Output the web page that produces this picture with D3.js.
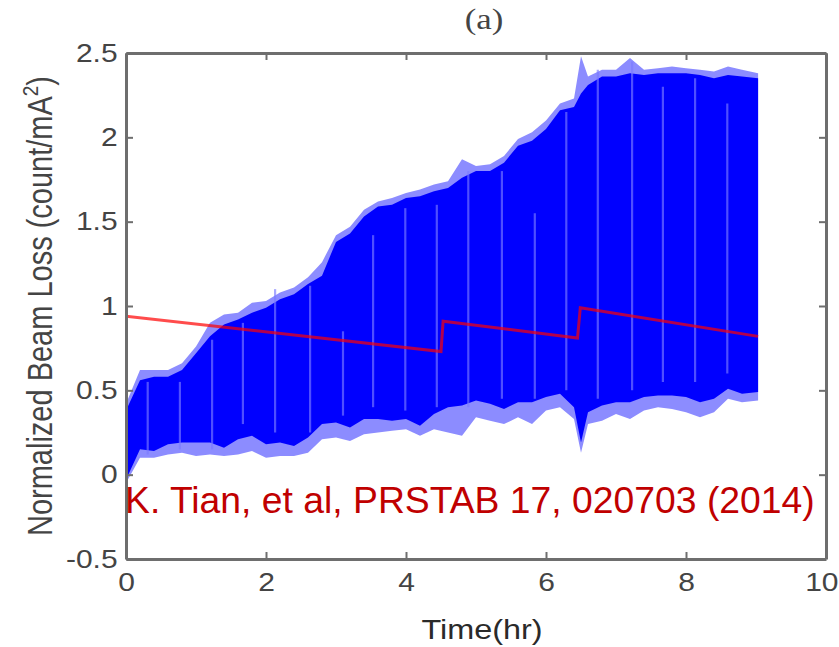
<!DOCTYPE html>
<html><head><meta charset="utf-8">
<script src="https://cdn.jsdelivr.net/npm/d3@7"></script>
<style>body{margin:0;background:#fff} svg{display:block}</style>
</head><body><svg id="c" width="839" height="647"></svg>
<script>
// ---- data ----
const timeHr = [0,0.2,0.4,0.6,0.8,1.0,1.2,1.4,1.6,1.8,2.0,2.2,2.4,2.6,2.8,3.0,3.2,3.4,3.6,3.8,4.0,4.2,4.4,4.6,4.8,5.0,5.2,5.4,5.6,5.8,6.0,6.2,6.4,6.5,6.6,6.8,7.0,7.2,7.4,7.6,7.8,8.0,8.2,8.4,8.6,8.8,9.03];
const upperSolid = [0.38,0.56,0.58,0.58,0.62,0.72,0.82,0.89,0.92,0.96,0.99,1.04,1.07,1.13,1.18,1.38,1.43,1.53,1.59,1.60,1.64,1.65,1.68,1.70,1.76,1.80,1.80,1.85,1.95,1.98,2.05,2.16,2.18,2.26,2.31,2.36,2.36,2.38,2.37,2.38,2.38,2.38,2.37,2.35,2.37,2.36,2.35];
const upperLight = [0.42,0.62,0.62,0.62,0.66,0.76,0.90,0.95,0.96,1.02,1.03,1.08,1.11,1.17,1.26,1.42,1.47,1.57,1.62,1.64,1.67,1.69,1.72,1.74,1.87,1.83,1.84,1.89,1.99,2.03,2.10,2.20,2.23,2.48,2.36,2.40,2.40,2.47,2.40,2.41,2.42,2.41,2.40,2.39,2.42,2.40,2.38];
const lowerSolid = [-0.03,0.15,0.14,0.18,0.19,0.19,0.19,0.16,0.21,0.23,0.18,0.19,0.17,0.22,0.30,0.31,0.28,0.33,0.33,0.32,0.33,0.29,0.36,0.40,0.41,0.44,0.42,0.39,0.43,0.43,0.46,0.48,0.40,0.19,0.37,0.41,0.43,0.43,0.46,0.47,0.47,0.46,0.43,0.45,0.51,0.48,0.49];
const lowerLight = [-0.05,0.10,0.10,0.12,0.13,0.11,0.12,0.11,0.12,0.14,0.10,0.11,0.11,0.13,0.21,0.22,0.20,0.24,0.25,0.26,0.27,0.23,0.27,0.25,0.23,0.34,0.32,0.30,0.34,0.30,0.38,0.40,0.33,0.13,0.30,0.32,0.36,0.33,0.38,0.40,0.39,0.37,0.34,0.37,0.45,0.43,0.44];

const streakTime = [0.31,0.77,1.23,1.67,2.13,2.63,3.10,3.53,3.99,4.44,4.89,5.37,5.84,6.29,6.74,7.23,7.67,8.13,8.59];
const streakLow  = [0.12,0.15,0.15,0.30,0.25,0.25,0.35,0.40,0.38,0.40,0.40,0.45,0.45,0.50,0.45,0.50,0.55,0.55,0.60];
const streakHigh = [0.55,0.55,0.80,0.90,1.10,1.12,0.85,1.42,1.58,1.60,1.80,1.80,1.55,2.15,2.40,2.45,2.30,2.35,2.20];

const redTime  = [0, 4.50, 4.53, 6.45, 6.49, 9.03];
const redValue = [0.94, 0.73, 0.91, 0.81, 0.99, 0.82];

const xTicks = [0,2,4,6,8,10];
const xTickLabels = ["0","2","4","6","8","10"];
const yTicks = [-0.5,0,0.5,1,1.5,2,2.5];
const yTickLabels = ["-0.5","0","0.5","1","1.5","2","2.5"];

// ---- drawing ----
const m = {l:126, r:826, t:53, b:559};
const x = d3.scaleLinear().domain([0,10]).range([m.l,m.r]);
const y = d3.scaleLinear().domain([-0.5,2.5]).range([m.b,m.t]);
const svg = d3.select("#c");
const SX = 1.2; // horizontal stretch of the original raster text

svg.append("clipPath").attr("id","clip").append("rect")
  .attr("x",m.l).attr("y",m.t).attr("width",m.r-m.l).attr("height",m.b-m.t);
const g = svg.append("g").attr("clip-path","url(#clip)");

const band = timeHr.map((t,i)=>({t, ul:upperLight[i], us:upperSolid[i], ll:lowerLight[i], ls:lowerSolid[i]}));
g.append("path").datum(band)
  .attr("d", d3.area().x(d=>x(d.t)).y0(d=>y(d.ll)).y1(d=>y(d.ul)))
  .attr("fill","#8c8cff");
g.append("path").datum(band)
  .attr("d", d3.area().x(d=>x(d.t)).y0(d=>y(d.ls)).y1(d=>y(d.us)))
  .attr("fill","#0000ff");

g.selectAll("line.streak").data(streakTime.map((t,i)=>({t,lo:streakLow[i],hi:streakHigh[i]})))
  .join("line").attr("class","streak")
  .attr("x1",d=>x(d.t)).attr("x2",d=>x(d.t))
  .attr("y1",d=>y(d.lo)).attr("y2",d=>y(d.hi))
  .attr("stroke","#7a7aff").attr("stroke-width",2.2).attr("opacity",0.65);

g.append("path").datum(redTime.map((t,i)=>({t,v:redValue[i]})))
  .attr("d", d3.line().x(d=>x(d.t)).y(d=>y(d.v)))
  .attr("fill","none").attr("stroke","#ff0000").attr("stroke-opacity",0.7).attr("stroke-width",3);

// axes
const axisColor = "#6e6e6e";
function styleAxis(sel){
  sel.select(".domain").attr("stroke",axisColor).attr("stroke-width",3);
  sel.selectAll(".tick line").attr("stroke",axisColor).attr("stroke-width",2);
  sel.selectAll(".tick text").attr("fill","#444").attr("font-family","'Liberation Sans', Arial, sans-serif").attr("font-size",25);
}
const xb = svg.append("g").attr("transform",`translate(0,${m.b})`)
  .call(d3.axisBottom(x).tickValues(xTicks).tickFormat((d,i)=>xTickLabels[i]).tickSizeInner(-7).tickSizeOuter(0).tickPadding(14));
styleAxis(xb);
xb.selectAll(".tick text").attr("transform",`scale(${SX},1)`)
  .filter(d=>d===10).attr("text-anchor","end").attr("x",10);

const xt = svg.append("g").attr("transform",`translate(0,${m.t})`)
  .call(d3.axisTop(x).tickValues(xTicks).tickFormat("").tickSizeInner(-7).tickSizeOuter(0));
styleAxis(xt);

const yl = svg.append("g").attr("transform",`translate(${m.l},0)`)
  .call(d3.axisLeft(y).tickValues(yTicks).tickFormat((d,i)=>yTickLabels[i]).tickSizeInner(-7).tickSizeOuter(0).tickPadding(7));
styleAxis(yl);
yl.selectAll(".tick text").attr("transform",`scale(${SX},1)`);

const yr = svg.append("g").attr("transform",`translate(${m.r},0)`)
  .call(d3.axisRight(y).tickValues(yTicks).tickFormat("").tickSizeInner(-7).tickSizeOuter(0));
styleAxis(yr);

// title
svg.append("text").attr("transform",`translate(484,29) scale(${SX},1)`)
  .attr("text-anchor","middle").attr("font-family","'Liberation Serif', 'Times New Roman', serif")
  .attr("font-size",29).attr("fill","#444").text("(a)");

// x label
svg.append("text").attr("transform",`translate(482,639) scale(${SX},1)`)
  .attr("text-anchor","middle").attr("font-family","'Liberation Sans', Arial, sans-serif")
  .attr("font-size",27).attr("fill","#2a2a2a").text("Time(hr)");

// y label
const ylab = svg.append("text").attr("transform",`translate(52,306) rotate(-90) scale(1,${SX})`)
  .attr("text-anchor","middle").attr("font-family","'Liberation Sans', Arial, sans-serif")
  .attr("font-size",29).attr("fill","#444");
ylab.append("tspan").text("Normalized Beam Loss (count/mA");
ylab.append("tspan").attr("font-size",19).attr("dy",-12).text("2");
ylab.append("tspan").attr("dy",12).text(")");

// annotation
svg.append("text").attr("x",125).attr("y",513)
  .attr("font-family","'Liberation Sans', Arial, sans-serif").attr("font-size",37.3)
  .attr("fill","#c00000").text("K. Tian, et al, PRSTAB 17, 020703 (2014)");
</script></body></html>
